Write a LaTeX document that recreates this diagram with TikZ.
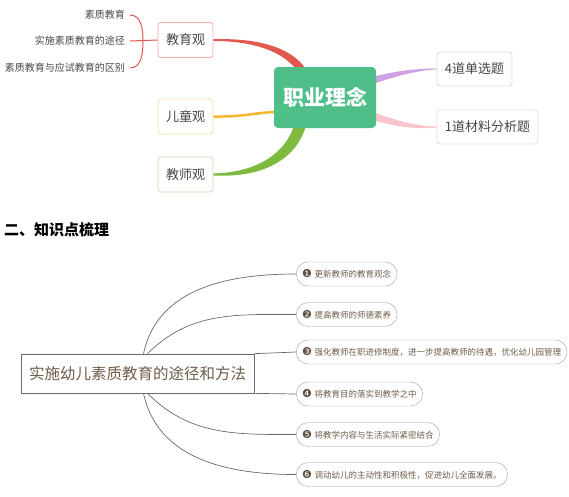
\documentclass[tikz,border=0pt]{standalone}
\usepackage{fontspec}
\setmainfont{Noto Sans CJK SC}
\newfontfamily\symfont{DejaVu Sans}
\usepackage{tikz}
\usetikzlibrary{positioning, calc, backgrounds}
\usepackage{xcolor}
\definecolor{cRed}{RGB}{226,88,78}
\definecolor{cRedL}{RGB}{240,172,168}
\definecolor{cYel}{RGB}{245,183,50}
\definecolor{cYelL}{RGB}{246,224,165}
\definecolor{cGrn}{RGB}{126,186,62}
\definecolor{cGrnL}{RGB}{200,224,178}
\definecolor{cPur}{RGB}{204,162,228}
\definecolor{cPurL}{RGB}{228,212,240}
\definecolor{cPnk}{RGB}{249,196,202}
\definecolor{cPnkL}{RGB}{248,216,220}
\definecolor{cCore}{RGB}{80,190,137}
\definecolor{cText}{RGB}{70,70,70}
\definecolor{cBrown}{RGB}{110,92,74}
\definecolor{cDot}{RGB}{96,80,64}
\definecolor{cLine}{RGB}{105,105,105}
\definecolor{cPill}{RGB}{160,160,160}
\tikzset{
  topbox/.style={rectangle, rounded corners=3pt, fill=white, thick,
                 minimum width=55pt, minimum height=35pt, text=cText,
                 font=\fontsize{13}{15}\selectfont},
  leaflabel/.style={anchor=east, inner sep=0pt, text=cText,
                    font=\fontsize{10}{12}\selectfont},
  corenode/.style={rectangle, rounded corners=4pt, fill=cCore, text=white,
                   minimum width=102pt, minimum height=61pt,
                   font=\fontsize{21}{24}\selectfont\bfseries},
  mainnode/.style={rectangle, draw=cLine, text=cBrown, line width=0.7pt,
                   minimum width=233pt, minimum height=39pt,
                   font=\fontsize{15.5}{18}\selectfont},
  pillnode/.style={rectangle, rounded corners=12pt, draw=cPill, fill=white,
                   anchor=west, minimum height=24pt, inner xsep=6pt,
                   text=cBrown, font=\fontsize{8.5}{10}\selectfont},
  twig/.style={draw=cLine, line width=0.7pt}
}
\newcommand{\numdot}[1]{{\symfont\fontsize{11}{10}\selectfont\color{cDot}#1}\hspace{2.5pt}}

\begin{document}
\begin{tikzpicture}[x=1pt, y=-1pt]
  \useasboundingbox (0,0) rectangle (569,496);

  % Top mind map
  \node[corenode] (zylm) at (325,97.5) {职业理念};
  \node[topbox, draw=cRedL] (jyg) at (185.5,40) {教育观};
  \node[topbox, draw=cYelL] (etg) at (185.5,116.5) {儿童观};
  \node[topbox, draw=cGrnL] (jsg) at (185.5,174.5) {教师观};
  \node[topbox, draw=cPurL, minimum width=75pt, minimum height=34pt]
      (dxt) at (474.5,69) {4道单选题};
  \node[topbox, draw=cPnkL, minimum width=101pt, minimum height=34pt]
      (clt) at (487.5,127) {1道材料分析题};

  \node[leaflabel] (sz1) at (125,15) {素质教育};
  \node[leaflabel] (sz2) at (125,41) {实施素质教育的途径};
  \node[leaflabel] (sz3) at (125,68) {素质教育与应试教育的区别};

  % Bracket
  \coordinate (br) at (143,40.5);
  \draw[cRed, line width=1pt] ($(sz1.east)+(5,0)$) to[out=0, in=90] (br)
      to[out=-90, in=0] ($(sz3.east)+(5,0)$);
  \draw[cRed, line width=1pt] ($(sz2.east)+(5,0)$) -- (jyg.west);

  % Tapered branches
  \begin{scope}[on background layer]
    \fill[cRed] ($(jyg.east)+(0,1)$) .. controls (255,41) and (282,52)
        .. ($(zylm.north west)+(22,2)$) -- ($(zylm.north west)+(32,2)$)
        .. controls (290,46) and (255,38) .. ($(jyg.east)+(0,-0.8)$) -- cycle;
    \fill[cGrn] ($(jsg.east)+(0,-1)$) .. controls (262,172) and (286,150)
        .. ($(zylm.south west)+(20,-2)$) -- ($(zylm.south west)+(32,-2)$)
        .. controls (296,160) and (262,178) .. ($(jsg.east)+(0,1)$) -- cycle;
    \draw[cYel, line width=2.5pt] (etg.east) .. controls (245,117) and (255,112.5)
        .. ($(zylm.west)+(2,14.5)$);
    \fill[cPur] ($(zylm.east)+(-2,-21)$) .. controls (400,70) and (420,68.5)
        .. ($(dxt.west)+(0,-0.5)$) -- ($(dxt.west)+(0,0.5)$)
        .. controls (420,70) and (400,75) .. ($(zylm.east)+(-2,-14)$) -- cycle;
    \fill[cPnk] ($(zylm.east)+(-2,15)$) .. controls (400,122) and (420,126.5)
        .. ($(clt.west)+(0,-0.5)$) -- ($(clt.west)+(0,0.5)$)
        .. controls (420,129) and (400,128) .. ($(zylm.east)+(-2,23)$) -- cycle;
  \end{scope}

  % Heading
  \node[anchor=west, inner sep=0pt, font=\fontsize{15}{18}\selectfont\bfseries]
      (head) at (4,230) {二、知识点梳理};

  % Bottom mind map
  \node[mainnode] (main) at (137.5,373.5) {实施幼儿素质教育的途径和方法};
  \node[pillnode] (p1) at (296,274) {\numdot{❶}更新教师的教育观念};
  \node[pillnode] (p2) at (296,314.5) {\numdot{❷}提高教师的师德素养};
  \node[pillnode] (p3) at (296,352) {\numdot{❸}强化教师在职进修制度，进一步提高教师的待遇，优化幼儿园管理};
  \node[pillnode] (p4) at (296,394) {\numdot{❹}将教育目的落实到教学之中};
  \node[pillnode] (p5) at (296,434.5) {\numdot{❺}将教学内容与生活实际紧密结合};
  \node[pillnode] (p6) at (296,474.5) {\numdot{❻}调动幼儿的主动性和积极性，促进幼儿全面发展。};

  \coordinate (up) at ($(main.north)+(6,0)$);
  \coordinate (dn) at ($(main.south)+(6,0)$);
  \draw[twig] (up) to[out=78, in=180] (p1.west);
  \draw[twig] ($(up)+(4,0)$) to[out=45, in=180] (p2.west);
  \draw[twig] (main.north east) -- (p3.west);
  \draw[twig] (main.south east) -- (p4.west);
  \draw[twig] ($(dn)+(4,0)$) to[out=-45, in=180] (p5.west);
  \draw[twig] (dn) to[out=-78, in=180] (p6.west);
\end{tikzpicture}
\end{document}
